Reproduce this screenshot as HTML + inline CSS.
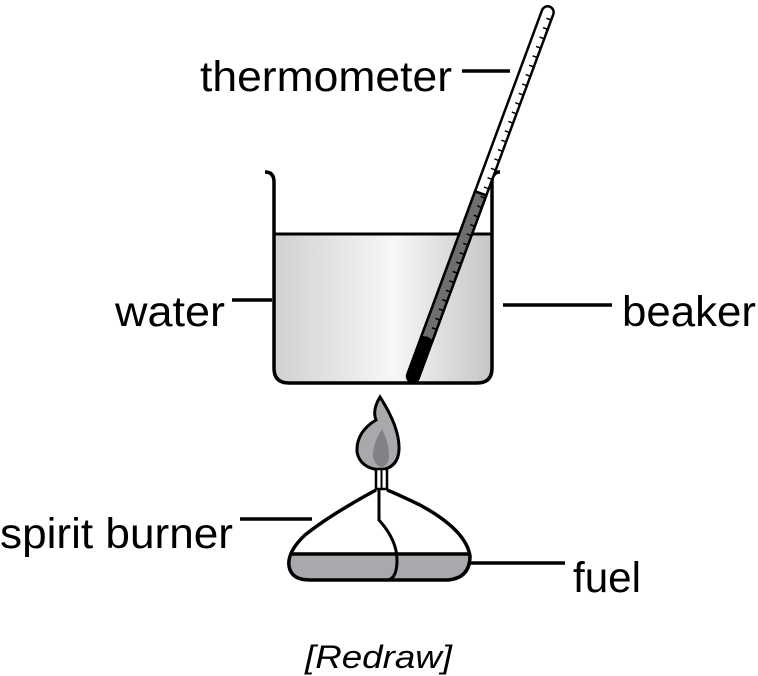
<!DOCTYPE html>
<html><head><meta charset="utf-8"><style>html,body{margin:0;padding:0;background:#fff}svg{display:block}</style></head>
<body>
<svg width="758" height="676" viewBox="0 0 758 676" xmlns="http://www.w3.org/2000/svg">
<defs>
<linearGradient id="w" x1="0" x2="1" y1="0" y2="0">
<stop offset="0" stop-color="#cfd0d2"/><stop offset="0.55" stop-color="#f7f7f7"/><stop offset="1" stop-color="#c4c5c7"/>
</linearGradient>
</defs>
<g font-family="Liberation Sans, sans-serif" font-size="43" fill="#000">
<text x="200" y="91" textLength="252" lengthAdjust="spacingAndGlyphs">thermometer</text>
<text x="115" y="326" textLength="110" lengthAdjust="spacingAndGlyphs">water</text>
<text x="622" y="326" textLength="134" lengthAdjust="spacingAndGlyphs">beaker</text>
<text x="0" y="548" textLength="233" lengthAdjust="spacingAndGlyphs">spirit burner</text>
<text x="573" y="592" textLength="68" lengthAdjust="spacingAndGlyphs">fuel</text>
<text x="305" y="668" font-size="32" font-style="italic" textLength="147" lengthAdjust="spacingAndGlyphs">[Redraw]</text>
</g>
<g stroke="#000" stroke-width="3.5" fill="none">
<line x1="462" y1="71" x2="510" y2="71"/>
<line x1="232" y1="300" x2="272" y2="300"/>
<line x1="503" y1="305" x2="612" y2="305"/>
<line x1="240" y1="519" x2="312" y2="519"/>
<line x1="455" y1="563" x2="565" y2="563"/>
</g>
<!-- water -->
<path d="M274 234 H492 V368 Q492 383 477 383 H289 Q274 383 274 368 Z" fill="url(#w)"/>
<line x1="274" y1="234" x2="492" y2="234" stroke="#000" stroke-width="3"/>
<path d="M265 172 Q274 172 274 182 V368 Q274 383 289 383 H477 Q492 383 492 368 V182 Q492 172 500 172" fill="none" stroke="#000" stroke-width="3.5"/>
<!-- thermometer -->
<g transform="translate(412,379) rotate(20.3)">
<rect x="-6" y="-397" width="12" height="400" rx="6" fill="#fff" stroke="#000" stroke-width="2.5"/>
<rect x="-6" y="-198" width="12" height="155" fill="#6d6e70" stroke="#000" stroke-width="2.5"/>
<rect x="-6" y="-45" width="12" height="48" rx="6" fill="#000"/>
<g stroke="#000" stroke-width="1.5">
<path d="M6 -385h-5 M6 -375h-5 M6 -365h-5 M6 -355h-5 M6 -345h-5 M6 -335h-5 M6 -325h-5 M6 -315h-5 M6 -305h-5 M6 -295h-5 M6 -285h-5 M6 -275h-5 M6 -265h-5 M6 -255h-5 M6 -245h-5 M6 -235h-5 M6 -225h-5 M6 -215h-5 M6 -205h-5 M6 -195h-5 M6 -185h-5 M6 -175h-5 M6 -165h-5 M6 -155h-5 M6 -145h-5 M6 -135h-5 M6 -125h-5 M6 -115h-5 M6 -105h-5 M6 -95h-5 M6 -85h-5 M6 -75h-5 M6 -65h-5 M6 -55h-5"/>
</g>
</g>
<!-- flame -->
<path d="M380 397 Q372 410 376 420 Q356 432 357 452 Q360 468 380 470 Q398 468 399 450 Q400 428 380 397 Z" fill="#a7a9ac" stroke="#000" stroke-width="3"/>
<path d="M382 429 Q372 445 373 457 Q376 467 382 467 Q389 465 389 455 Q389 443 382 429 Z" fill="#808285"/>
<rect x="376" y="469" width="11" height="20" fill="#fff" stroke="#000" stroke-width="2.5"/>
<line x1="381.5" y1="469" x2="381.5" y2="489" stroke="#000" stroke-width="2"/>
<!-- burner -->
<path d="M289 554 H470 Q470 580 446 580 H307 Q289 580 289 566 Z" fill="#a7a9ac"/>
<path d="M376 490 Q330 515 305 535 Q287 552 289 566 Q291 580 310 580 H448 Q470 578 470 556 Q466 530 420 505 Q395 493 387 490" fill="none" stroke="#000" stroke-width="3.5"/>
<line x1="291" y1="554" x2="470" y2="554" stroke="#000" stroke-width="3.5"/>
<path d="M379 490 V520 Q397 540 397 560 Q397 578 388 580" fill="none" stroke="#000" stroke-width="3"/>
</svg>
</body></html>
